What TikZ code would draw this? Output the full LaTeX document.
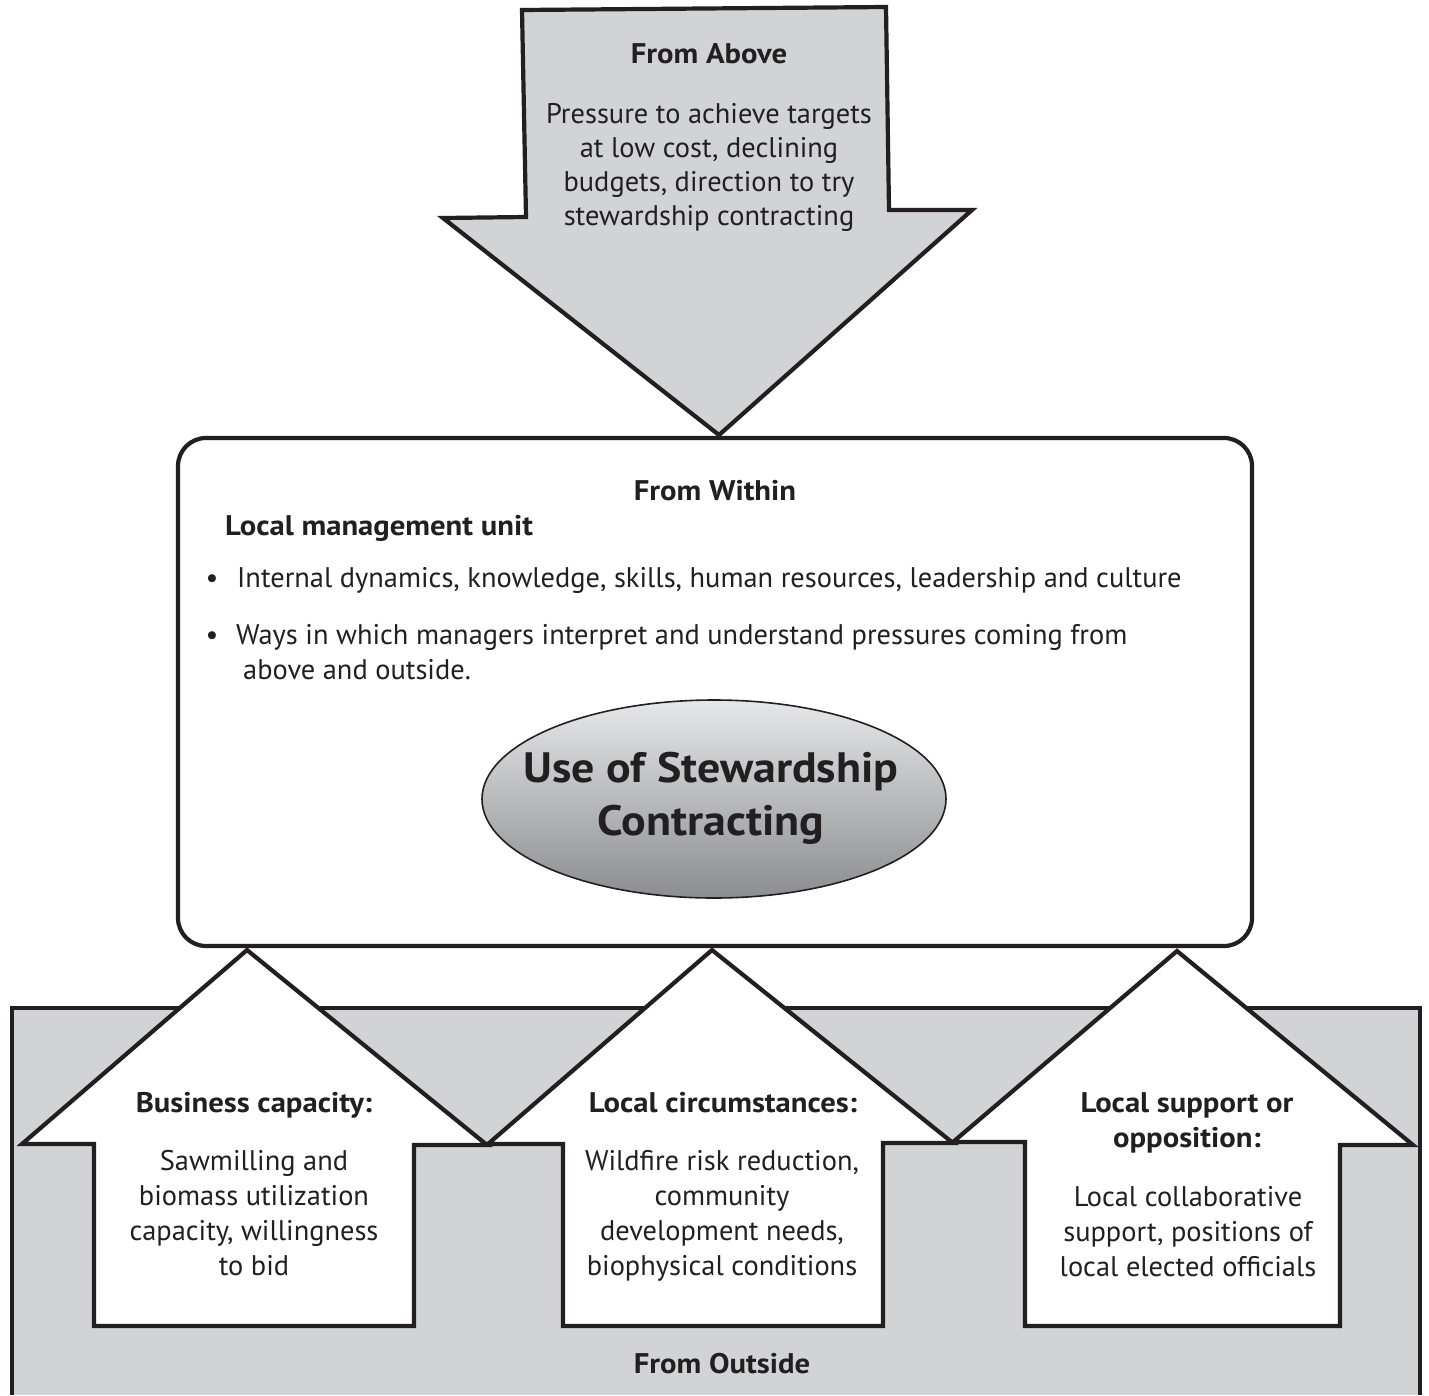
\documentclass[tikz,border=0pt]{standalone}
\usepackage{fontspec}
\setmainfont{PT Sans}[BoldFeatures={FakeStretch=1.08}]
\usetikzlibrary{shapes.geometric}
\definecolor{ink}{HTML}{231F20}
\definecolor{panel}{HTML}{D1D3D4}
\definecolor{ovtop}{HTML}{E6E7E8}
\definecolor{ovbot}{HTML}{8C8D90}
\begin{document}
\begin{tikzpicture}[x=1pt,y=-1pt,line join=miter,
  outline/.style={draw=ink,line width=4.2pt},
  body/.style={font=\fontsize{28.4}{34}\selectfont,text=ink,inner sep=0pt,anchor=base},
  bodyleft/.style={body,anchor=base west},
  head/.style={body,font=\fontsize{28.4}{34}\selectfont\bfseries},
  headleft/.style={head,anchor=base west},
  big/.style={body,font=\fontsize{42.5}{50}\selectfont\bfseries}]
\useasboundingbox (0,0) rectangle (1429,1395);

% panel "from outside"
\fill[panel] (12,1008) rectangle (1420,1395);
\draw[ink,line width=4.2pt] (12,1395) -- (12,1008) -- (1420,1008) -- (1420,1395);

% upward arrows
\draw[outline,fill=white] (247,950) -- (487,1145) -- (414,1145) -- (414,1326) -- (94,1326) -- (94,1144) -- (22,1144) -- cycle;
\draw[outline,fill=white] (712,950) -- (953,1143) -- (883,1143) -- (883,1326) -- (563,1326) -- (563,1144) -- (488,1144) -- cycle;
\draw[outline,fill=white] (1177,951) -- (1413,1145) -- (1340,1145) -- (1340,1326) -- (1025,1326) -- (1025,1142) -- (953,1142) -- cycle;

% rounded box "from within"
\draw[outline,fill=white,rounded corners=28pt] (178,438) rectangle (1252,946);

% downward arrow
\draw[outline,fill=panel] (522,10) -- (886,7) -- (889,210) -- (972,210) -- (719,435) -- (443,218) -- (526,217) -- cycle;

% central ellipse
\node[ellipse,draw=ink,line width=1.6pt,top color=ovtop,bottom color=ovbot,
      minimum width=464pt,minimum height=198pt,inner sep=0pt] (core) at (714,799) {};
\node[big] (core1) at (711,782) {Use of Stewardship};
\node[big] (core2) at (711,835) {Contracting};

% From Above
\node[head] (above) at (709,63) {From Above};
\foreach \t [count=\i] in {Pressure to achieve targets,{at low cost, declining},{budgets, direction to try},stewardship contracting}
  \node[body] (abv\i) at (709,{123+34*(\i-1)}) {\t};

% From Within
\node[head] (within) at (715,500) {From Within};
\node[headleft] (lmu) at (225,535) {Local management unit};
\node[body] (bul1) at (212,587) {\textbullet};
\node[bodyleft] (it1) at (237,587) {Internal dynamics, knowledge, skills, human resources, leadership and culture};
\node[body] (bul2) at (212,644) {\textbullet};
\node[bodyleft] (it2) at (236,644) {Ways in which managers interpret and understand pressures coming from};
\node[bodyleft] (it2b) at (243,679) {above and outside.};

% Business capacity
\node[head] (bc) at (254,1112) {Business capacity:};
\foreach \t [count=\i] in {Sawmilling and,biomass utilization,{capacity, willingness},to bid}
  \node[body] (bc\i) at (254,{1170+35*(\i-1)}) {\t};

% Local circumstances
\node[head] (lc) at (723,1112) {Local circumstances:};
\foreach \t [count=\i] in {{Wildfire risk reduction,},community,{development needs,},biophysical conditions}
  \node[body] (lc\i) at (722,{1170+35*(\i-1)}) {\t};

% Local support
\node[head] (ls1) at (1187,1112) {Local support or};
\node[head] (ls2) at (1187,1147) {opposition:};
\foreach \t [count=\i] in {Local collaborative,{support, positions of},local elected officials}
  \node[body] (ls\i b) at (1188,{1206+35*(\i-1)}) {\t};

\node[head] (outside) at (722,1373) {From Outside};
\end{tikzpicture}
\end{document}
